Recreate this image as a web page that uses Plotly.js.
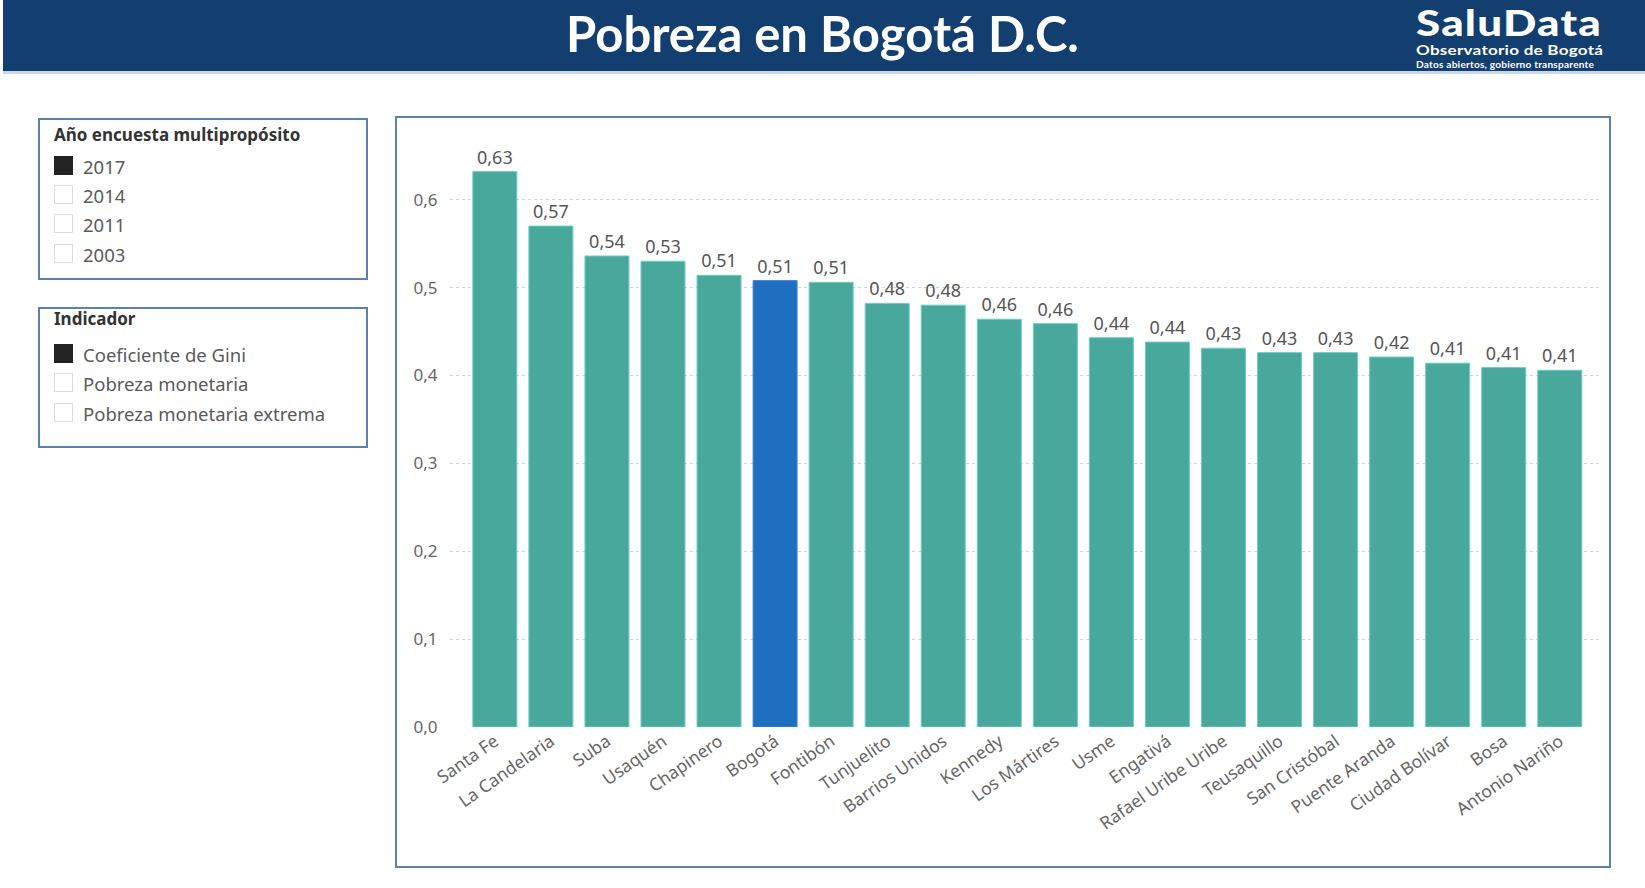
<!DOCTYPE html>
<html>
<head>
<meta charset="utf-8">
<script src="https://cdn.plot.ly/plotly-3.0.1.min.js"></script>
<style>
  html, body { margin:0; padding:0; background:#ffffff; width:1645px; height:888px; overflow:hidden; font-family:"Noto Sans", "Open Sans", sans-serif; }
  #header { position:absolute; left:3px; top:0; width:1642px; height:71px; background:#123e70; border-bottom:3px solid #c9d7e6; }
  #title { position:absolute; left:0; width:1645px; top:3px; text-align:center; color:#fff; font-family:Lato, "Noto Sans", sans-serif; font-weight:bold; font-size:49px; line-height:60px; }
  #logo1 { position:absolute; left:1416px; top:4px; color:#fff; font-family:Lato, sans-serif; font-weight:900; font-size:36px; line-height:36px; letter-spacing:1px; transform:scaleX(1.22); transform-origin:0 0; }
  #logo2 { position:absolute; left:1416px; top:43px; color:#fff; font-family:Lato, sans-serif; font-weight:bold; font-size:14px; line-height:14px; letter-spacing:0.2px; transform:scaleX(1.22); transform-origin:0 0; }
  #logo3 { position:absolute; left:1416px; top:60px; color:#fff; font-family:Lato, sans-serif; font-weight:bold; font-size:9px; line-height:9px; letter-spacing:0.2px; transform:scaleX(1.12); transform-origin:0 0; }
  .panel { position:absolute; left:38px; width:330px; border:2px solid #5c82ab; box-sizing:border-box; background:#fff; }
  .ptitle { position:absolute; left:14px; color:#333; font-weight:bold; font-size:17px; }
  .item { position:absolute; left:14px; height:21px; font-size:18.5px; color:#5a5a5a; line-height:21px; white-space:nowrap; }
  .box { display:inline-block; width:19px; height:19px; box-sizing:border-box; border:1px solid #dcdcdc; vertical-align:top; margin-right:10px; }
  .box.on { background:#222; border-color:#222; }
  #frame { position:absolute; left:395px; top:116px; width:1216px; height:752px; box-sizing:border-box; border:2px solid #5c82ab; }
  #chart { position:absolute; left:395px; top:116px; width:1216px; height:752px; }
</style>
</head>
<body>
<div id="header"></div>
<div id="title">Pobreza en Bogotá D.C.</div>
<div id="logo1">SaluData</div>
<div id="logo2">Observatorio de Bogotá</div>
<div id="logo3">Datos abiertos, gobierno transparente</div>

<div class="panel" style="top:118px; height:162px;">
  <div class="ptitle" style="top:3px;">Año encuesta multipropósito</div>
  <div class="item" style="top:36px;"><span class="box on"></span>2017</div>
  <div class="item" style="top:65px;"><span class="box"></span>2014</div>
  <div class="item" style="top:94px;"><span class="box"></span>2011</div>
  <div class="item" style="top:124px;"><span class="box"></span>2003</div>
</div>
<div class="panel" style="top:307px; height:141px;">
  <div class="ptitle" style="top:-2px;">Indicador</div>
  <div class="item" style="top:35px;"><span class="box on"></span>Coeficiente de Gini</div>
  <div class="item" style="top:64px;"><span class="box"></span>Pobreza monetaria</div>
  <div class="item" style="top:94px;"><span class="box"></span>Pobreza monetaria extrema</div>
</div>

<div id="frame"></div>
<div id="chart"></div>

<script>
const localidades = ["Santa Fe","La Candelaria","Suba","Usaquén","Chapinero","Bogotá","Fontibón","Tunjuelito","Barrios Unidos","Kennedy","Los Mártires","Usme","Engativá","Rafael Uribe Uribe","Teusaquillo","San Cristóbal","Puente Aranda","Ciudad Bolívar","Bosa","Antonio Nariño"];
const gini = [0.632,0.570,0.536,0.530,0.514,0.508,0.506,0.482,0.480,0.464,0.459,0.443,0.438,0.431,0.426,0.426,0.421,0.414,0.409,0.406];
const destacado = "Bogotá";

const colorBase = "#47a89b";
const colorDest = "#1f6fc0";

const trace = {
  type: "bar",
  x: localidades,
  y: gini,
  marker: {
    color: localidades.map(l => l === destacado ? colorDest : colorBase),
    line: { color: localidades.map(l => l === destacado ? "#3f86d6" : "#6ccfbf"), width: 1 }
  },
  texttemplate: "%{y:.2f}",
  textposition: "outside",
  cliponaxis: false,
  textfont: { family: "Noto Sans, sans-serif", size: 18, color: "#555" },
  hoverinfo: "x+y",
  width: 0.785
};

const layout = {
  width: 1216, height: 752,
  margin: { l: 55, r: 12, t: 31, b: 141 },
  paper_bgcolor: "rgba(0,0,0,0)",
  plot_bgcolor: "rgba(0,0,0,0)",
  separators: ",.",
  showlegend: false,
  font: { family: "Noto Sans, sans-serif", color: "#666" },
  xaxis: {
    type: "category",
    range: [-0.8, 19.7],
    tickangle: -35,
    tickfont: { size: 17.5, color: "#666" },
    showgrid: false, zeroline: false, showline: false,
    ticks: ""
  },
  yaxis: {
    range: [0, 0.66],
    dtick: 0.1,
    tickformat: ".1f",
    tickfont: { size: 17, color: "#666" },
    showgrid: true, gridcolor: "#d4d4d4", griddash: "dot", gridwidth: 1,
    zeroline: false, showline: false,
    ticks: "outside", ticklen: 8, tickcolor: "rgba(0,0,0,0)"
  }
};

Plotly.newPlot("chart", [trace], layout, { displayModeBar: false, staticPlot: true });
</script>
</body>
</html>
